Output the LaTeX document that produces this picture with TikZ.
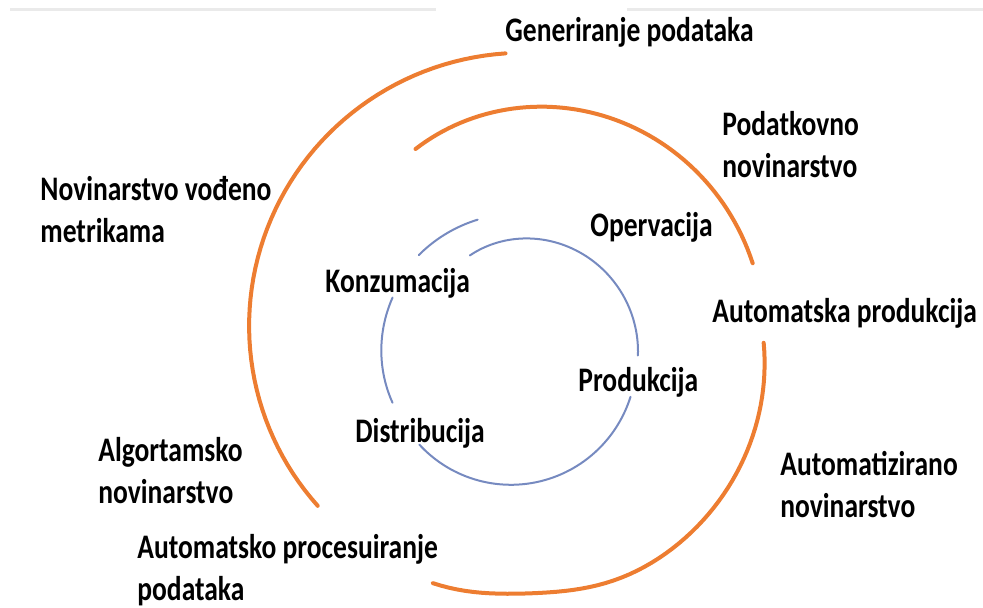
\documentclass[tikz,border=0pt]{standalone}
\usepackage{fontspec}
\setmainfont{Carlito}[FakeStretch=0.8]
\usepackage{xcolor}
\definecolor{arcorange}{RGB}{237,125,49}
\definecolor{arcblue}{RGB}{118,138,192}
\definecolor{rulegray}{RGB}{234,234,234}

\begin{document}
\begin{tikzpicture}[x=0.5pt, y=-0.5pt,
        every node/.style={font=\fontsize{17.2}{21}\selectfont\bfseries, inner sep=0pt, anchor=base west, align=left},
        orangearc/.style={draw=arcorange, line width=2pt, line cap=round},
        bluearc/.style={draw=arcblue, line width=1pt, line cap=round},
        every plot/.style={samples=60, variable=\t}]
    \useasboundingbox (0,0) rectangle (983,608);
    % faint rule at the top
    \draw[rulegray, line width=1.5pt] (10,10) -- (436,10) (627,10) -- (983,10);

    % outer spiral (angle:radius round its centre, y axis points down)
    \begin{scope}[shift={(520,330)}]
        \draw[orangearc] plot[domain=-120:-16] (\t:{209+0.4923*(\t+120)-0.001683*(\t+120)^2});
        \draw[orangearc] plot[domain=3:109] (\t:{244+0.6223*(\t-3)-0.003646*(\t-3)^2-7*exp(-((\t-88)/16)^2)});
        \draw[orangearc] plot[domain=139:267] (\t:{268+9*(\t-139)/128});
    \end{scope}

    % inner spiral
    \begin{scope}[shift={(510,360)}]
        \draw[bluearc] plot[domain=-111:-2] (\t:{112+0.4529*(\t+111)-0.002808*(\t+111)^2});
        \draw[bluearc] plot[domain=17:137] (\t:{126-2*(\t-17)/120});
        \draw[bluearc] plot[domain=160:208] (\t:{125+8*(\t-160)/48});
        \draw[bluearc] plot[domain=229:257] (\t:{139+5*(\t-229)/28});
    \end{scope}

    % labels
    \node (gen) at (505,42) {Generiranje podataka};
    \node (podnov) at (722,178) {Podatkovno\\novinarstvo};
    \node (metrik) at (40,243) {Novinarstvo vođeno\\metrikama};
    \node (operv) at (590,237) {Opervacija};
    \node (konz) at (325,293) {Konzumacija};
    \node (autprod) at (712,323) {Automatska produkcija};
    \node (prod) at (578,392) {Produkcija};
    \node (distr) at (355,442) {Distribucija};
    \node (algnov) at (98,503) {Algortamsko\\novinarstvo};
    \node (autnov) at (780,517) {Automatizirano\\novinarstvo};
    \node (autproc) at (137,600) {Automatsko procesuiranje\\podataka};
\end{tikzpicture}
\end{document}
